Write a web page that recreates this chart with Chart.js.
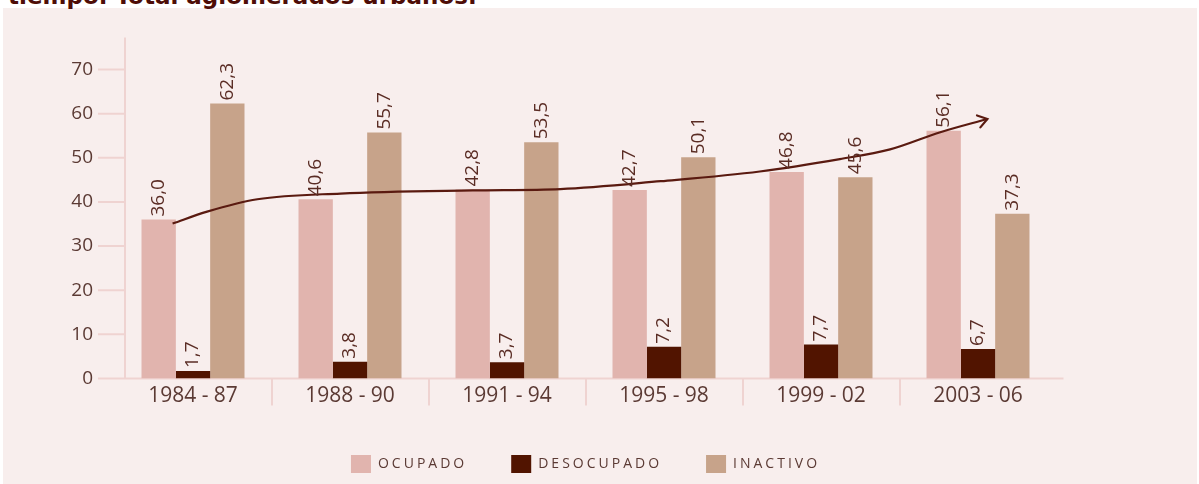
<!DOCTYPE html>
<html>
<head>
<meta charset="utf-8">
<script src="https://cdn.jsdelivr.net/npm/chart.js@4.4.1/dist/chart.umd.min.js"></script>
<style>
  html, body { margin: 0; padding: 0; background: #fff; overflow: hidden; }
  #wrap { position: relative; width: 1199px; height: 484px; }
  #panel { position: absolute; left: 3px; top: 8px; width: 1194px; height: 476px; background: #f8eeed; }
  #title { position: absolute; left: 8px; top: -15px; font: bold 23px "DejaVu Sans", sans-serif; line-height: 22px; color: #4e0d07; white-space: nowrap; }
  #chart { position: absolute; left: 0; top: 0; }
</style>
</head>
<body>
<div id="wrap">
  <div id="panel"></div>
  <div id="title">tiempo. Total aglomerados urbanos.</div>
  <canvas id="chart" width="1199" height="484"></canvas>
</div>
<script>
// Data
const categories = ['1984 - 87', '1988 - 90', '1991 - 94', '1995 - 98', '1999 - 02', '2003 - 06'];
const ocupado = [36.0, 40.6, 42.8, 42.7, 46.8, 56.1];
const desocupado = [1.7, 3.8, 3.7, 7.2, 7.7, 6.7];
const inactivo = [62.3, 55.7, 53.5, 50.1, 45.6, 37.3];
const yTicks = [0, 10, 20, 30, 40, 50, 60, 70];

// Trend arrow, x in category units (0 = first group centre)
const trendX = [-0.13, 0.09, 0.41, 0.94, 1.78, 2.34, 2.98, 3.61, 4.12, 4.44, 4.76, 5.06];
const trendY = [35.1, 37.8, 40.6, 41.9, 42.6, 42.9, 44.7, 46.9, 49.7, 51.9, 55.8, 58.8];

const axisColor = '#efd3d1';
const textColor = '#5b3a34';
const fontFamily = '"Open Sans", sans-serif';

// bars sit on a linear x axis so the trend line can share it
const toPoints = values => values.map((v, i) => ({ x: i, y: v }));

// Decorations: axis lines and y tick marks, drawn from the scales
const axesPlugin = {
    id: 'axesDecor',
    beforeDatasetsDraw(chart) {
        const ctx = chart.ctx;
        const area = chart.chartArea;
        const y = chart.scales.y;
        const axisX = area.left + 10.5;
        const y0 = y.getPixelForValue(0);
        ctx.save();
        ctx.strokeStyle = axisColor;
        ctx.lineWidth = 2;
        ctx.beginPath();
        ctx.moveTo(axisX, area.top - 32);
        ctx.lineTo(axisX, y0);
        yTicks.forEach(v => {
            const py = y.getPixelForValue(v);
            ctx.moveTo(axisX - 27, py);
            ctx.lineTo(axisX, py);
        });
        ctx.moveTo(axisX - 27, y0);
        ctx.lineTo(area.right + 7, y0);
        ctx.stroke();
        ctx.restore();
    }
};

// Rotated value labels and the arrow head
const labelsPlugin = {
    id: 'valueLabels',
    afterDatasetsDraw(chart) {
        const ctx = chart.ctx;
        ctx.save();
        ctx.font = '19px ' + fontFamily;
        ctx.fillStyle = '#5a2c24';
        ctx.textAlign = 'left';
        ctx.textBaseline = 'middle';
        [0, 1, 2].forEach(di => {
            const meta = chart.getDatasetMeta(di);
            meta.data.forEach((bar, i) => {
                const v = chart.data.datasets[di].data[i].y;
                ctx.save();
                ctx.translate(bar.x, bar.y - 3);
                ctx.rotate(-Math.PI / 2);
                ctx.fillText(v.toFixed(1).replace('.', ','), 0, 0);
                ctx.restore();
            });
        });

        const pts = chart.getDatasetMeta(3).data;
        const a = pts[pts.length - 2], b = pts[pts.length - 1];
        const ang = Math.atan2(b.y - a.y, b.x - a.x);
        ctx.strokeStyle = '#5a1a10';
        ctx.lineWidth = 2.2;
        ctx.lineCap = 'round';
        ctx.beginPath();
        ctx.moveTo(b.x - 11 * Math.cos(ang - 0.6), b.y - 11 * Math.sin(ang - 0.6));
        ctx.lineTo(b.x, b.y);
        ctx.lineTo(b.x - 11 * Math.cos(ang + 0.6), b.y - 11 * Math.sin(ang + 0.6));
        ctx.stroke();
        ctx.restore();
    }
};

// Wider letter spacing for the legend text
const legendSpacing = {
    id: 'legendSpacing',
    beforeUpdate(chart) {
        const lg = chart.legend;
        if (!lg || lg._spaced) return;
        lg._spaced = true;
        const fit = lg.fit.bind(lg);
        const draw = lg.draw.bind(lg);
        lg.fit = function () {
            chart.ctx.save();
            chart.ctx.letterSpacing = '3px';
            fit();
            chart.ctx.restore();
            this.height = 73;
        };
        lg.draw = function () {
            chart.ctx.save();
            chart.ctx.letterSpacing = '3px';
            draw();
            chart.ctx.restore();
        };
    }
};

document.addEventListener('DOMContentLoaded', function () {
    const canvas = document.getElementById('chart');
    new Chart(canvas, {
        type: 'bar',
        data: {
            datasets: [
                { label: 'OCUPADO', data: toPoints(ocupado), backgroundColor: '#e1b4ae', order: 1 },
                { label: 'DESOCUPADO', data: toPoints(desocupado), backgroundColor: '#511400', order: 1 },
                { label: 'INACTIVO', data: toPoints(inactivo), backgroundColor: '#c7a38a', order: 1 },
                {
                    type: 'line',
                    label: 'trend',
                    data: trendX.map((x, i) => ({ x: x, y: trendY[i] })),
                    borderColor: '#5a1a10',
                    borderWidth: 2.2,
                    pointRadius: 0,
                    cubicInterpolationMode: 'monotone',
                    fill: false,
                    order: -1
                }
            ]
        },
        options: {
            responsive: false,
            animation: false,
            events: [],
            layout: { padding: { left: 0, right: 142.5, top: 69.5, bottom: 0 } },
            datasets: {
                bar: { categoryPercentage: 0.656, barPercentage: 1.0 }
            },
            scales: {
                x: {
                    type: 'linear',
                    min: -0.5,
                    max: 5.5,
                    offset: false,
                    border: { display: false },
                    grid: {
                        display: true,
                        offset: true,
                        drawOnChartArea: false,
                        drawTicks: true,
                        tickLength: 27,
                        lineWidth: 2,
                        color: ctx => (ctx.index === undefined || ctx.index === 0) ? 'rgba(0,0,0,0)' : axisColor
                    },
                    ticks: {
                        color: textColor,
                        font: { family: fontFamily, size: 21 },
                        padding: -22,
                        maxRotation: 0,
                        autoSkip: false,
                        callback: v => categories[v]
                    },
                    afterBuildTicks(scale) {
                        scale.ticks = categories.map((c, i) => ({ value: i }));
                    },
                    afterFit(scale) { scale.height = 32.5; }
                },
                y: {
                    min: 0,
                    max: 70,
                    border: { display: false },
                    grid: { display: false, drawTicks: false },
                    ticks: {
                        stepSize: 10,
                        color: textColor,
                        font: { family: fontFamily, size: 19 },
                        padding: 21.5
                    },
                    afterFit(scale) { scale.width = 114.5; }
                }
            },
            plugins: {
                legend: {
                    position: 'bottom',
                    fullSize: false,
                    labels: {
                        boxWidth: 20,
                        boxHeight: 18,
                        padding: 44,
                        color: textColor,
                        font: { family: fontFamily, size: 14 },
                        filter: item => item.datasetIndex < 3
                    }
                },
                tooltip: { enabled: false }
            }
        },
        plugins: [axesPlugin, labelsPlugin, legendSpacing]
    });
});
</script>
</body>
</html>
